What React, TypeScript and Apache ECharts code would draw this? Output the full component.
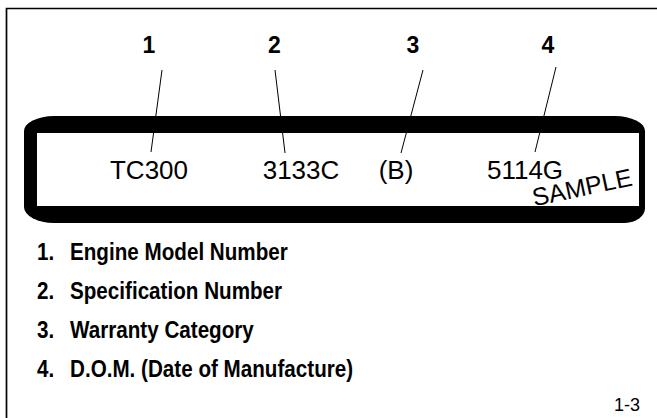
import React, { useEffect, useRef } from "react";
import * as echarts from "echarts";

// ---- content ----
const calloutNumbers = ["1", "2", "3", "4"];
const plateCodes = ["TC300", "3133C", "(B)", "5114G"];
const legendNumbers = ["1.", "2.", "3.", "4."];
const legendItems = [
  "Engine Model Number",
  "Specification Number",
  "Warranty Category",
  "D.O.M. (Date of Manufacture)",
];
const stampText = "SAMPLE";
const figureId = "1-3";

// ---- layout (pixels) ----
const calloutX = [149, 274.5, 413, 548];
const calloutY = 45;
const leaderFrom = [[162, 70], [275, 70], [423, 70], [556, 67]];
const leaderTo = [[151, 152], [285, 153], [401, 153], [535, 152]];
const codeX = [149, 301, 396, 525];
const codeY = 170;
const legendY = [252, 291, 330, 369];

const FONT = '"Liberation Sans", Arial, Helvetica, sans-serif';

const plateD =
  "M 54 116 L 615 116 A 30 15 0 0 1 645 131 L 645 208 A 20 15 0 0 1 625 223 L 54 223 A 30 16 0 0 1 24 207 L 24 131 A 30 15 0 0 1 54 116 Z";

let registered = false;
function ensureShape() {
  if (registered) return;
  echarts.graphic.registerShape("plate", echarts.graphic.extendPath(plateD, {}));
  registered = true;
}

export default function App() {
  const ref = useRef<HTMLDivElement>(null);
  useEffect(() => {
    if (!ref.current) return;
    ensureShape();
    const chart = echarts.init(ref.current, undefined, { renderer: "svg" });
    const elements: any[] = [];
    elements.push({
      type: "rect",
      shape: { x: 6.5, y: 8.5, width: 700, height: 500 },
      style: { fill: "#fff", stroke: "#000", lineWidth: 1.7 },
    });
    elements.push({ type: "plate", x: 0, y: 0, style: { fill: "#000" } });
    elements.push({
      type: "rect",
      shape: { x: 37, y: 133, width: 602, height: 73 },
      style: { fill: "#fff" },
    });
    calloutNumbers.forEach((n, i) => {
      elements.push({
        type: "text",
        x: calloutX[i],
        y: calloutY,
        style: { text: n, font: `bold 23px ${FONT}`, fill: "#000", align: "center", verticalAlign: "middle" },
      });
      elements.push({
        type: "line",
        shape: { x1: leaderFrom[i][0], y1: leaderFrom[i][1], x2: leaderTo[i][0], y2: leaderTo[i][1] },
        style: { stroke: "#000", lineWidth: 1 },
      });
    });
    plateCodes.forEach((c, i) => {
      elements.push({
        type: "text",
        x: codeX[i],
        y: codeY,
        style: { text: c, font: `26px ${FONT}`, fill: "#000", align: "center", verticalAlign: "middle" },
      });
    });
    elements.push({
      type: "text",
      x: 582,
      y: 187,
      rotation: (12 * Math.PI) / 180,
      style: { text: stampText, font: `25px ${FONT}`, fill: "#000", align: "center", verticalAlign: "middle" },
    });
    legendItems.forEach((t, i) => {
      elements.push({
        type: "text",
        x: 37,
        y: legendY[i],
        scaleX: 0.86,
        style: { text: legendNumbers[i], font: `bold 24px ${FONT}`, fill: "#000", align: "left", verticalAlign: "middle" },
      });
      elements.push({
        type: "text",
        x: 70,
        y: legendY[i],
        scaleX: 0.86,
        style: { text: t, font: `bold 24px ${FONT}`, fill: "#000", align: "left", verticalAlign: "middle" },
      });
    });
    elements.push({
      type: "text",
      x: 627,
      y: 405,
      style: { text: figureId, font: `18px ${FONT}`, fill: "#000", align: "center", verticalAlign: "middle" },
    });
    chart.setOption({
      animation: false,
      backgroundColor: "#fff",
      graphic: { elements },
    });
    return () => chart.dispose();
  }, []);
  return (
    <div
      ref={ref}
      style={{ position: "absolute", left: 0, top: 0, width: 657, height: 418, background: "#fff" }}
    />
  );
}
